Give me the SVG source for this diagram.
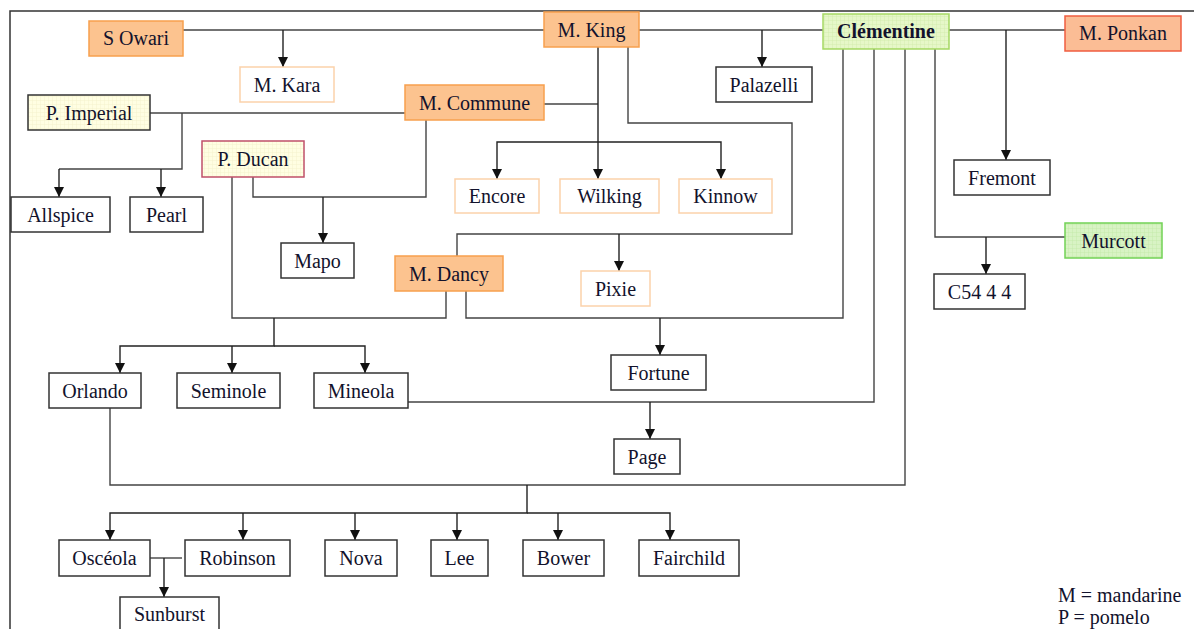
<svg xmlns="http://www.w3.org/2000/svg" width="1194" height="629" viewBox="0 0 1194 629">
<defs>
<marker id="arr" viewBox="0 0 10 10" refX="10" refY="5" markerWidth="11" markerHeight="10" markerUnits="userSpaceOnUse" orient="auto">
<path d="M0,0 L10,5 L0,10 z" fill="#111"/>
</marker>
<pattern id="gGreen" width="4" height="4" patternUnits="userSpaceOnUse">
<rect width="4" height="4" fill="#e6f7c8"/>
<path d="M0,0.25 H4 M0.25,0 V4" stroke="#cfeba6" stroke-width="0.5"/>
</pattern>
<pattern id="gMur" width="4" height="4" patternUnits="userSpaceOnUse">
<rect width="4" height="4" fill="#d8f3c4"/>
<path d="M0,0.25 H4 M0.25,0 V4" stroke="#bfe6a4" stroke-width="0.5"/>
</pattern>
<pattern id="gYel" width="4" height="4" patternUnits="userSpaceOnUse">
<rect width="4" height="4" fill="#fffee2"/>
<path d="M0,0.25 H4 M0.25,0 V4" stroke="#f3f0c6" stroke-width="0.5"/>
</pattern>
</defs>
<style>
rect{stroke-width:1.5}
.plain{fill:#fff;stroke:#333}
.lor{fill:#fff;stroke:#fbd2ab}
.or{fill:#fcc38f;stroke:#f7a04e}
.pon{fill:#fbbd95;stroke:#f05d40}
.gr{fill:url(#gGreen);stroke:#a6d964}
.mur{fill:url(#gMur);stroke:#72d255}
.ye{fill:url(#gYel);stroke:#333}
.duc{fill:url(#gYel);stroke:#c0506a}
text{font-family:"Liberation Serif","Times New Roman",serif;font-size:20px;fill:#12122c;text-anchor:middle}
.b{font-weight:bold}
.leg{text-anchor:start}
#connectors path{fill:none;stroke:#444;stroke-width:1.4}
#connectors path.a{marker-end:url(#arr);stroke:#222}
</style>
<path d="M10,629 V11 H1194" fill="none" stroke="#333" stroke-width="1.5"/>
<g id="connectors">
<path d="M183,30 H544"/>
<path class="a" d="M283,30 V67"/>
<path d="M639,30 H823"/>
<path class="a" d="M762,30 V67"/>
<path d="M949,30 H1065"/>
<path class="a" d="M1006,30 V160"/>
<path d="M150,113 H405"/>
<path d="M182,113 V169 H59"/>
<path class="a" d="M59,169 V197"/>
<path class="a" d="M161,169 V197"/>
<path d="M544,104 H598"/>
<path class="a" d="M598,47 V179"/>
<path class="a" d="M598,142 H497 V179"/>
<path class="a" d="M598,142 H721 V179"/>
<path d="M628,47 V123 H792 V234 H457 V256"/>
<path class="a" d="M619,234 V271"/>
<path d="M426,120 V197 H253 V177"/>
<path class="a" d="M323,197 V243"/>
<path d="M232,177 V318 H446 V291"/>
<path class="a" d="M274,318 V346 H120 V373"/>
<path class="a" d="M274,346 H365 V373"/>
<path class="a" d="M232,346 V373"/>
<path d="M466,291 V318 H843 V49"/>
<path class="a" d="M660,318 V355"/>
<path d="M874,49 V402 H408"/>
<path class="a" d="M650,402 V439"/>
<path d="M905,49 V485 H110 V408"/>
<path class="a" d="M527,485 V513 H110 V540"/>
<path class="a" d="M527,513 H670 V540"/>
<path class="a" d="M243,513 V540"/>
<path class="a" d="M355,513 V540"/>
<path class="a" d="M457,513 V540"/>
<path class="a" d="M558,513 V540"/>
<path d="M935,49 V237 H1065"/>
<path class="a" d="M986,237 V274"/>
<path d="M150,558 H182"/>
<path class="a" d="M164,558 V597"/>
</g>
<g id="n-sowari"><rect class="or" x="89" y="21" width="94" height="35"/><text x="136" y="45">S Owari</text></g>
<g id="n-mking"><rect class="or" x="544" y="12" width="95" height="35"/><text x="591.5" y="36.5">M. King</text></g>
<g id="n-clementine"><rect class="gr" x="823" y="14" width="126" height="35"/><text class="b" x="886" y="38">Clémentine</text></g>
<g id="n-mponkan"><rect class="pon" x="1065" y="16" width="116" height="35"/><text x="1123" y="40">M. Ponkan</text></g>
<g id="n-mkara"><rect class="lor" x="240" y="67" width="94" height="35"/><text x="287" y="91.5">M. Kara</text></g>
<g id="n-palazelli"><rect class="plain" x="716" y="67" width="96" height="35"/><text x="764" y="91.5">Palazelli</text></g>
<g id="n-pimperial"><rect class="ye" x="28" y="95" width="122" height="35"/><text x="89" y="119.5">P. Imperial</text></g>
<g id="n-mcommune"><rect class="or" x="405" y="85" width="139" height="35"/><text x="474.5" y="109.5">M. Commune</text></g>
<g id="n-pducan"><rect class="duc" x="202" y="141" width="102" height="36"/><text x="253" y="166">P. Ducan</text></g>
<g id="n-allspice"><rect class="plain" x="11" y="197" width="99" height="35"/><text x="60.5" y="221.5">Allspice</text></g>
<g id="n-pearl"><rect class="plain" x="130" y="197" width="73" height="35"/><text x="166.5" y="221.5">Pearl</text></g>
<g id="n-encore"><rect class="lor" x="455" y="179" width="84" height="34"/><text x="497" y="203">Encore</text></g>
<g id="n-wilking"><rect class="lor" x="560" y="179" width="99" height="34"/><text x="609.5" y="203">Wilking</text></g>
<g id="n-kinnow"><rect class="lor" x="679" y="179" width="93" height="34"/><text x="725.5" y="203">Kinnow</text></g>
<g id="n-fremont"><rect class="plain" x="954" y="160" width="96" height="35"/><text x="1002" y="184.5">Fremont</text></g>
<g id="n-murcott"><rect class="mur" x="1065" y="223" width="97" height="35"/><text x="1113.5" y="247.5">Murcott</text></g>
<g id="n-c5444"><rect class="plain" x="934" y="274" width="91" height="35"/><text x="979.5" y="298.5">C54 4 4</text></g>
<g id="n-mapo"><rect class="plain" x="281" y="243" width="73" height="35"/><text x="317.5" y="267.5">Mapo</text></g>
<g id="n-mdancy"><rect class="or" x="395" y="256" width="108" height="35"/><text x="449" y="280.5">M. Dancy</text></g>
<g id="n-pixie"><rect class="lor" x="581" y="271" width="69" height="35"/><text x="615.5" y="295.5">Pixie</text></g>
<g id="n-orlando"><rect class="plain" x="49" y="373" width="92" height="35"/><text x="95" y="397.5">Orlando</text></g>
<g id="n-seminole"><rect class="plain" x="177" y="373" width="103" height="35"/><text x="228.5" y="397.5">Seminole</text></g>
<g id="n-mineola"><rect class="plain" x="314" y="373" width="94" height="35"/><text x="361" y="397.5">Mineola</text></g>
<g id="n-fortune"><rect class="plain" x="611" y="355" width="95" height="35"/><text x="658.5" y="379.5">Fortune</text></g>
<g id="n-page"><rect class="plain" x="614" y="439" width="66" height="35"/><text x="647" y="463.5">Page</text></g>
<g id="n-osceola"><rect class="plain" x="59" y="540" width="91" height="36"/><text x="104.5" y="565">Osc&#233;ola</text></g>
<g id="n-robinson"><rect class="plain" x="185" y="540" width="105" height="36"/><text x="237.5" y="565">Robinson</text></g>
<g id="n-nova"><rect class="plain" x="325" y="540" width="72" height="36"/><text x="361" y="565">Nova</text></g>
<g id="n-lee"><rect class="plain" x="431" y="540" width="57" height="36"/><text x="459.5" y="565">Lee</text></g>
<g id="n-bower"><rect class="plain" x="523" y="540" width="81" height="36"/><text x="563.5" y="565">Bower</text></g>
<g id="n-fairchild"><rect class="plain" x="639" y="540" width="100" height="36"/><text x="689" y="565">Fairchild</text></g>
<g id="n-sunburst"><rect class="plain" x="120" y="597" width="99" height="36"/><text x="169.5" y="621">Sunburst</text></g>
<g id="legend"><text class="leg" x="1058" y="602">M = mandarine</text><text class="leg" x="1058" y="624">P = pomelo</text></g>
</svg>
